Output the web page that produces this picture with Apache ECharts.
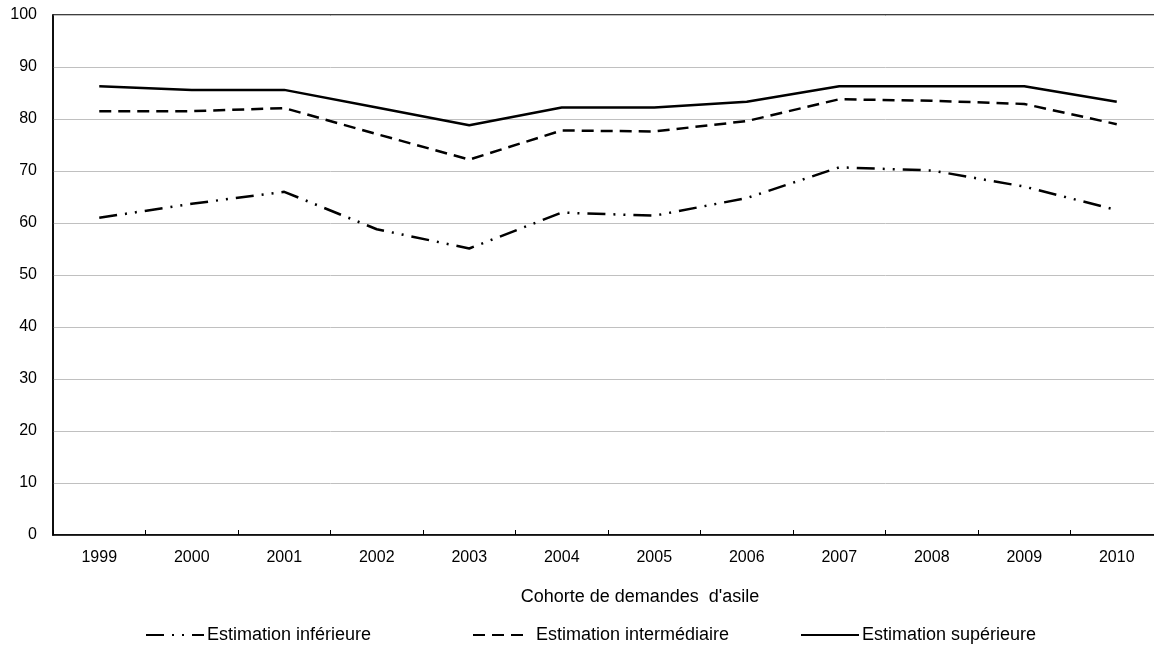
<!DOCTYPE html>
<html>
<head>
<meta charset="utf-8">
<script src="https://cdn.jsdelivr.net/npm/echarts@6/dist/echarts.min.js"></script>
<style>
  html, body { margin:0; padding:0; background:#fff; overflow:hidden; }
  #chart { width:1175px; height:647px; }
</style>
</head>
<body>
<div id="chart"></div>
<script>
var years = ["1999","2000","2001","2002","2003","2004","2005","2006","2007","2008","2009","2010"];
var estInf = [61.0, 63.7, 66.0, 58.8, 55.1, 62.0, 61.4, 64.8, 70.7, 70.1, 67.0, 62.5];
var estMid = [81.5, 81.5, 82.1, 77.1, 72.2, 77.8, 77.6, 79.6, 83.8, 83.5, 82.9, 79.0];
var estSup = [86.3, 85.6, 85.6, 82.2, 78.8, 82.2, 82.2, 83.3, 86.3, 86.3, 86.3, 83.3];
var names = ["Estimation inférieure", "Estimation intermédiaire", "Estimation supérieure"];

var font = "'Liberation Sans', Arial, sans-serif";

var chart = echarts.init(document.getElementById("chart"));

// one legend per item, so each can sit where the original puts it
function legendFor(name, left, iconW, textPad){
  return {
    data:[name],
    left:left,
    top:621,
    itemWidth:iconW,
    itemHeight:18,
    itemGap:0,
    itemStyle:{ opacity:0 },
    textStyle:{ color:"#000", fontSize:18, fontFamily:font, padding:[0,0,0,textPad] }
  };
}

function lineSeries(name, data, dash){
  return {
    name:name,
    type:"line",
    data:data,
    symbol:"none",
    color:"#000",
    lineStyle:{ color:"#000", width:2.5, type:dash, cap:"butt" }
  };
}

chart.setOption({
  backgroundColor:"#fff",
  animation:false,
  textStyle:{ fontFamily:font },
  grid:{
    left:53, top:15, width:1110, height:520,
    show:true, borderColor:"#000", borderWidth:1.5, backgroundColor:"transparent"
  },
  legend:[
    legendFor(names[0], 140, 58, -2),
    legendFor(names[1], 467, 50, 8),
    legendFor(names[2], 795, 58, -2)
  ],
  graphic:[{
    type:"text",
    x:640, y:597,
    style:{
      text:"Cohorte de demandes  d'asile",
      fill:"#000",
      font:"18px " + font,
      textAlign:"center",
      textVerticalAlign:"middle"
    }
  }],
  xAxis:{
    type:"category",
    data:years,
    boundaryGap:true,
    axisLine:{ lineStyle:{ color:"#000", width:1.5 } },
    axisTick:{ show:true, inside:true, length:5, lineStyle:{ color:"#000" } },
    axisLabel:{ color:"#000", fontSize:16, margin:15, fontFamily:font },
    splitLine:{ show:false }
  },
  yAxis:{
    type:"value",
    min:0, max:100, interval:10,
    axisLine:{ show:true, lineStyle:{ color:"#000", width:1.5 } },
    axisTick:{ show:false },
    axisLabel:{ color:"#000", fontSize:16, margin:16, fontFamily:font },
    splitLine:{ show:true, lineStyle:{ color:"#c0c0c0", width:1 } }
  },
  series:[
    lineSeries(names[0], estInf, [18, 8, 2, 8, 2, 8]),
    lineSeries(names[1], estMid, [12, 7]),
    lineSeries(names[2], estSup, "solid")
  ]
});
</script>
</body>
</html>
